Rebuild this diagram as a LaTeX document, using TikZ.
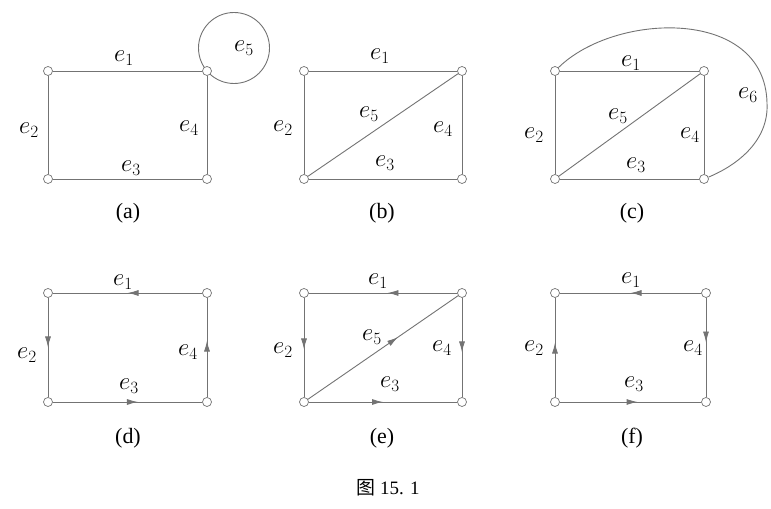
\documentclass[tikz,border=0pt]{standalone}
\usepackage{fontspec}
\setmainfont{Liberation Serif}
\newfontfamily\cjkfont{Noto Sans CJK SC}
\usetikzlibrary{arrows.meta,decorations.markings,backgrounds,calc}

\tikzset{
  vertex/.style={draw=black!55, circle, fill=white, inner sep=0pt, minimum size=9bp, line width=0.7bp},
  link/.style={draw=black!55, line width=0.9bp},
  midarrow/.style={postaction={decorate, decoration={markings,
      mark=at position #1 with {\arrow{Latex[length=11bp,width=6bp]}}}}},
  midarrow/.default=0.55,
  elabel/.style={font=\fontsize{25}{27}\selectfont},
  sublabel/.style={font=\fontsize{22}{24}\selectfont}
}

\begin{document}
\begin{tikzpicture}[x=1bp,y=1bp]
    \useasboundingbox (0,0) rectangle (771,509);

    % (a)
    \node[vertex] (a1) at (48,438) {};
    \node[vertex] (a2) at (207,438) {};
    \node[vertex] (a3) at (48,330) {};
    \node[vertex] (a4) at (207,330) {};
    \draw[link] (a1) -- (a2);
    \draw[link] (a1) -- (a3);
    \draw[link] (a3) -- (a4);
    \draw[link] (a2) -- (a4);
    \begin{scope}[on background layer]
        \draw[link] ($(a2)+(27,23)$) circle[radius=35.5];
    \end{scope}
    \node[elabel] (la1) at (124,451) {$e_1$};
    \node[elabel] (la2) at (29,379) {$e_2$};
    \node[elabel] (la3) at (131,341) {$e_3$};
    \node[elabel] (la4) at (189,381) {$e_4$};
    \node[elabel] (la5) at (244,461) {$e_5$};
    \node[sublabel] (capa) at (128,296) {(a)};

    % (b)
    \node[vertex] (b1) at (304,438) {};
    \node[vertex] (b2) at (462,438) {};
    \node[vertex] (b3) at (304,330) {};
    \node[vertex] (b4) at (462,330) {};
    \draw[link] (b1) -- (b2);
    \draw[link] (b1) -- (b3);
    \draw[link] (b3) -- (b4);
    \draw[link] (b2) -- (b4);
    \draw[link] (b3) -- (b2);
    \node[elabel] (lb1) at (380,453) {$e_1$};
    \node[elabel] (lb2) at (283,381) {$e_2$};
    \node[elabel] (lb3) at (385,346) {$e_3$};
    \node[elabel] (lb4) at (443,380) {$e_4$};
    \node[elabel] (lb5) at (369,395) {$e_5$};
    \node[sublabel] (capb) at (382,296) {(b)};

    % (c)
    \node[vertex] (c1) at (555,438) {};
    \node[vertex] (c2) at (704,438) {};
    \node[vertex] (c3) at (555,330) {};
    \node[vertex] (c4) at (704,330) {};
    \draw[link] (c1) -- (c2);
    \draw[link] (c1) -- (c3);
    \draw[link] (c3) -- (c4);
    \draw[link] (c2) -- (c4);
    \draw[link] (c3) -- (c2);
    \coordinate (c6) at (767,406);
    \draw[link] (c1) .. controls (615,497) and (765,502) .. (c6)
                     .. controls (769,370) and (740,345) .. (c4);
    \node[elabel] (lc1) at (631,446) {$e_1$};
    \node[elabel] (lc2) at (534,374) {$e_2$};
    \node[elabel] (lc3) at (636,344) {$e_3$};
    \node[elabel] (lc4) at (690,374) {$e_4$};
    \node[elabel] (lc5) at (618,393) {$e_5$};
    \node[elabel] (lc6) at (748,414) {$e_6$};
    \node[sublabel] (capc) at (632,296) {(c)};

    % (d)
    \node[vertex] (d1) at (48,216) {};
    \node[vertex] (d2) at (207,216) {};
    \node[vertex] (d3) at (48,107) {};
    \node[vertex] (d4) at (207,107) {};
    \draw[link, midarrow=0.5] (d2) -- (d1);
    \draw[link, midarrow=0.5] (d1) -- (d3);
    \draw[link, midarrow=0.57] (d3) -- (d4);
    \draw[link, midarrow=0.57] (d4) -- (d2);
    \node[elabel] (ld1) at (123,227) {$e_1$};
    \node[elabel] (ld2) at (27,154) {$e_2$};
    \node[elabel] (ld3) at (129,123) {$e_3$};
    \node[elabel] (ld4) at (188,157) {$e_4$};
    \node[sublabel] (capd) at (128,71) {(d)};

    % (e)
    \node[vertex] (f1) at (304,216) {};
    \node[vertex] (f2) at (462,216) {};
    \node[vertex] (f3) at (304,107) {};
    \node[vertex] (f4) at (462,107) {};
    \draw[link, midarrow=0.47] (f2) -- (f1);
    \draw[link, midarrow=0.52] (f1) -- (f3);
    \draw[link, midarrow=0.5] (f3) -- (f4);
    \draw[link, midarrow=0.55] (f2) -- (f4);
    \draw[link, midarrow=0.6] (f3) -- (f2);
    \node[elabel] (le1) at (378,228) {$e_1$};
    \node[elabel] (le2) at (283,159) {$e_2$};
    \node[elabel] (le3) at (390,125) {$e_3$};
    \node[elabel] (le4) at (442,161) {$e_4$};
    \node[elabel] (le5) at (372,172) {$e_5$};
    \node[sublabel] (cape) at (382,71) {(e)};

    % (f)
    \node[vertex] (g1) at (555,216) {};
    \node[vertex] (g2) at (706,216) {};
    \node[vertex] (g3) at (555,107) {};
    \node[vertex] (g4) at (706,107) {};
    \draw[link, midarrow=0.5] (g2) -- (g1);
    \draw[link, midarrow=0.55] (g3) -- (g1);
    \draw[link, midarrow=0.55] (g3) -- (g4);
    \draw[link, midarrow=0.45] (g2) -- (g4);
    \node[elabel] (lf1) at (631,229) {$e_1$};
    \node[elabel] (lf2) at (534,161) {$e_2$};
    \node[elabel] (lf3) at (634,125) {$e_3$};
    \node[elabel] (lf4) at (693,161) {$e_4$};
    \node[sublabel] (capf) at (632,71) {(f)};

    % caption
    \node[font=\fontsize{19}{21}\selectfont] (fig) at (388,21) {{\cjkfont 图} 15. 1};
\end{tikzpicture}
\end{document}
